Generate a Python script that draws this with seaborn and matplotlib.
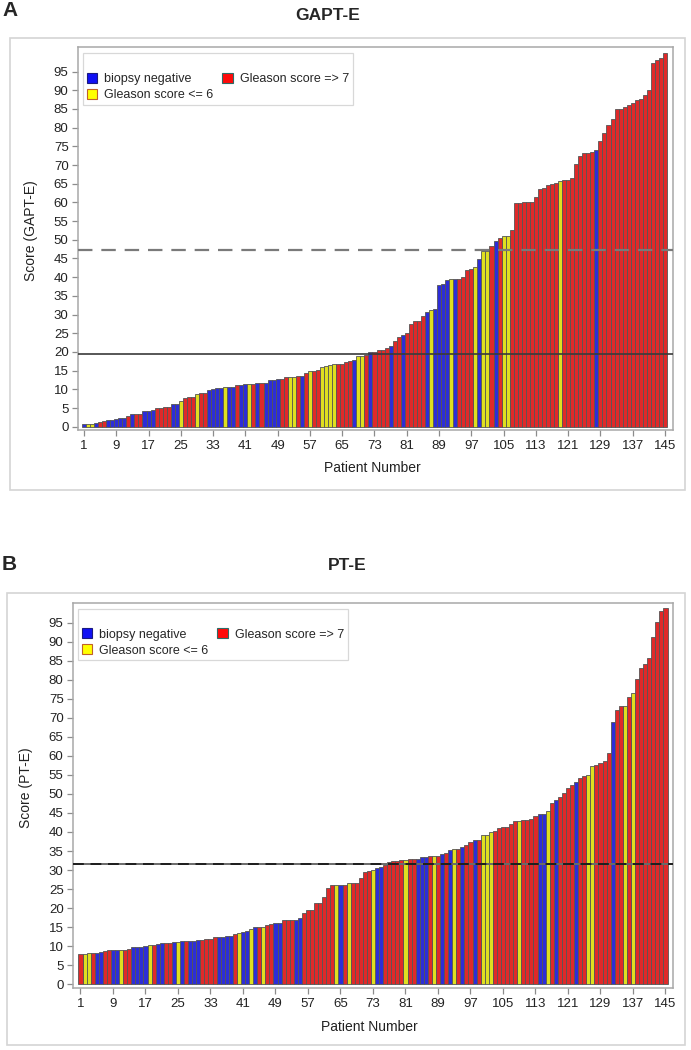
import matplotlib
matplotlib.use("Agg")
import matplotlib.pyplot as plt
import seaborn as sns
import pandas as pd
from matplotlib.patches import Patch, Rectangle

# ---------------- data ----------------
patients = list(range(1, 146))

gapt_scores = [
    0.7, 0.7, 0.8, 1.0, 1.3, 1.5, 1.8, 1.9, 2.0, 2.2,
    2.3, 2.8, 3.3, 3.4, 3.5, 4.2, 4.3, 4.5, 5.0, 5.1,
    5.2, 5.3, 6.0, 6.2, 7.0, 7.8, 7.9, 8.0, 8.8, 8.9,
    9.0, 9.8, 10.0, 10.3, 10.4, 10.5, 10.5, 10.6, 11.1, 11.2,
    11.3, 11.5, 11.5, 11.6, 11.6, 11.7, 12.5, 12.6, 12.7, 12.8,
    13.3, 13.4, 13.4, 13.5, 13.6, 14.3, 14.9, 15.0, 15.1, 15.9,
    16.3, 16.4, 16.7, 16.8, 16.8, 17.2, 17.5, 17.8, 19.0, 19.0,
    19.1, 20.0, 20.0, 20.4, 20.6, 21.1, 21.7, 22.9, 24.0, 24.5,
    25.0, 27.6, 28.2, 28.4, 29.6, 30.7, 31.3, 31.5, 37.8, 38.1,
    39.3, 39.4, 39.5, 39.6, 40.0, 42.0, 42.1, 42.6, 44.9, 46.9,
    47.0, 48.4, 49.8, 50.5, 50.9, 51.0, 52.5, 59.8, 59.9, 60.0,
    60.0, 60.1, 61.5, 63.5, 63.8, 64.6, 64.8, 65.1, 65.8, 65.9,
    66.0, 66.6, 70.4, 72.4, 73.1, 73.3, 73.5, 74.0, 76.4, 78.6,
    80.7, 82.2, 84.9, 85.0, 85.6, 86.0, 86.5, 87.4, 87.8, 88.7,
    90.1, 97.2, 98.1, 98.6, 100.1,
]
gapt_codes = list(
    "BYYBRRBBBB" "BRBRRBBBRR" "RRBBYRRRYR" "RBBBBYBBRB" "BYRBRBBBBR"
    "RYYRBRYRRY" "YYYRRRRBYY" "RBRRRRBRRB" "RRRRRBYBBB" "BYBRRRRYBY"
    "YRBRYYRRRR" "RRRRRRRRYR" "RRRRRRRBRR" "RRRRRRRRRR" "RRRRR"
)

pt_scores = [
    8.0, 8.0, 8.1, 8.1, 8.3, 8.4, 8.8, 8.9, 8.9, 9.0,
    9.0, 9.1, 9.3, 9.7, 9.8, 9.9, 10.0, 10.2, 10.3, 10.7,
    10.8, 10.8, 10.9, 11.0, 11.1, 11.3, 11.4, 11.5, 11.5, 11.6,
    11.7, 11.8, 12.0, 12.4, 12.5, 12.5, 12.6, 12.6, 13.2, 13.4,
    13.8, 13.9, 14.4, 15.0, 15.0, 15.1, 15.7, 15.8, 16.1, 16.2,
    16.9, 16.9, 17.0, 17.0, 17.5, 18.6, 19.5, 19.6, 21.3, 21.4,
    23.0, 25.2, 26.1, 26.1, 26.2, 26.2, 26.5, 26.5, 26.6, 28.0,
    29.4, 29.8, 30.1, 30.6, 30.8, 31.2, 32.0, 32.5, 32.5, 32.6,
    32.7, 32.9, 32.9, 33.0, 33.5, 33.5, 33.6, 33.8, 33.8, 34.1,
    34.6, 35.3, 35.5, 35.5, 36.0, 36.7, 37.3, 37.9, 38.0, 39.1,
    39.2, 40.0, 40.3, 41.1, 41.4, 41.4, 42.1, 42.9, 43.0, 43.2,
    43.2, 43.3, 44.2, 44.7, 44.7, 45.6, 47.5, 48.4, 49.3, 50.3,
    51.6, 52.3, 53.0, 54.1, 54.7, 55.0, 57.2, 57.7, 58.2, 58.7,
    60.8, 68.8, 72.1, 73.2, 73.2, 75.4, 76.6, 80.2, 83.0, 84.1,
    85.6, 91.3, 95.1, 98.1, 98.8,
]
pt_codes = list(
    "RYYRBBRRBB" "YRRBBBBYRB" "BRRBYBRBBB" "RRRRBBBBRY" "BBYBRYRRBB"
    "RRRBBRRRRR" "RRRYBRYRRR" "RRYBBRRRRR" "YRRBBBRYRB" "RBYRBRRBRY"
    "YYRRRRRRYR" "RRRBBYRBRR" "RRBRRYYRRR" "RBRRYRYRRR" "RRRRR"
)

group_names = {"B": "biopsy negative", "Y": "Gleason score <= 6", "R": "Gleason score => 7"}
hue_order = ["biopsy negative", "Gleason score <= 6", "Gleason score => 7"]
gapt_line_solid = 19.4
gapt_line_dashed = 47.2
pt_line = 31.6
y_ticks = list(range(0, 100, 5))
x_ticks = list(range(1, 146, 8))

# ---------------- style ----------------
sns.set_theme(style="white")
plt.rcParams['font.family'] = ['Liberation Sans', 'DejaVu Sans']

fill_colors = {"biopsy negative": "#1010f5",
               "Gleason score <= 6": "#ffff00",
               "Gleason score => 7": "#ff0a0a"}

W, H = 691, 1050
fig = plt.figure(figsize=(W / 100, H / 100), dpi=100)


def px_axes(l, t, r, b):
    return fig.add_axes([l / W, 1 - b / H, (r - l) / W, (b - t) / H])


def draw_panel(ax, scores, codes, edge_map, xlim, ylim, ylabel, ylab_x, xlab_y):
    df = pd.DataFrame({"patient": patients, "score": scores,
                       "group": [group_names[c] for c in codes]})
    sns.barplot(data=df, x="patient", y="score", hue="group", hue_order=hue_order,
                palette=fill_colors, native_scale=True, dodge=False, width=1.0,
                errorbar=None, legend=False, linewidth=0.6, edgecolor="#555555", ax=ax)
    # per-group outline colours
    for p in ax.patches:
        fc = matplotlib.colors.to_hex(p.get_facecolor()[:3])
        for g, col in fill_colors.items():
            if fc == matplotlib.colors.to_hex(col):
                p.set_edgecolor(edge_map[g])
    ax.set_xlim(*xlim)
    ax.set_ylim(*ylim)
    ax.set_yticks(y_ticks)
    ax.set_xticks(x_ticks)
    ax.set_xticklabels([str(t) for t in x_ticks])
    ax.tick_params(axis="both", which="both", direction="out", length=4.5, width=0.9,
                   color="#8c8c8c", labelsize=9.5, pad=2.5, labelcolor="#222222",
                   bottom=True, left=True)
    for s in ax.spines.values():
        s.set_color("#a8a8a8")
        s.set_linewidth(1.1)
    ax.set_ylabel(ylabel, fontsize=10, color="#222222")
    ax.set_xlabel("Patient Number", fontsize=10, color="#222222")
    ax.yaxis.set_label_coords(ylab_x, 0.52)
    ax.xaxis.set_label_coords(0.494, xlab_y)

    handles = [Patch(facecolor=fill_colors["biopsy negative"], edgecolor="#1a1a80", lw=0.8),
               Patch(facecolor=fill_colors["Gleason score <= 6"], edgecolor="#c0602a", lw=0.8),
               Patch(facecolor=fill_colors["Gleason score => 7"], edgecolor="#2e6b66", lw=0.8)]
    leg = ax.legend(handles, hue_order, ncol=2, loc="upper left",
                    bbox_to_anchor=(0.008, 0.984), frameon=True, fancybox=False,
                    fontsize=9, title=" ", title_fontsize=9, handlelength=0.85,
                    handleheight=0.85, handletextpad=0.55, columnspacing=0.7,
                    labelspacing=0.3, borderpad=0.3, borderaxespad=0.0)
    leg.get_frame().set_edgecolor("#cfcfcf")
    leg.get_frame().set_linewidth(0.9)
    return ax


# ---------------- panel A ----------------
axA = px_axes(78.3, 47.3, 673.3, 430.0)
draw_panel(axA, gapt_scores, gapt_codes,
           {"biopsy negative": "#2a3a8a", "Gleason score <= 6": "#c8782a",
            "Gleason score => 7": "#3d6a64"},
           (-0.41, 147.06), (-0.88, 101.5), "Score (GAPT-E)", -0.068, -0.081)
axA.axhline(gapt_line_solid, color="#3a3a3a", lw=1.2, zorder=5)
axA.axhline(gapt_line_dashed, color="#7a7a7a", lw=1.6, ls=(0, (6.5, 4.0)), zorder=5)

# ---------------- panel B ----------------
axB = px_axes(73.3, 602.7, 673.3, 988.3)
draw_panel(axB, pt_scores, pt_codes,
           {"biopsy negative": "#2a3a8a", "Gleason score <= 6": "#b8802a",
            "Gleason score => 7": "#74608a"},
           (-0.77, 146.92), (-1.05, 100.2), "Score (PT-E)", -0.067, -0.081)
axB.axhline(pt_line, color="#6a6a6a", lw=1.4, zorder=5)
axB.axhline(pt_line, color="#111111", lw=1.2, ls=(0, (6.5, 4.0)), zorder=6)

# ---------------- outer boxes & titles ----------------
for (l, t, r, b) in [(10, 38.3, 685, 490), (7, 592.7, 685, 1045)]:
    fig.add_artist(Rectangle((l / W, 1 - b / H), (r - l) / W, (b - t) / H,
                             transform=fig.transFigure, fill=False,
                             edgecolor="#d4d4d4", lw=1.2))

fig.text(2 / W, 1 - 10 / H, "A", ha="left", va="center", fontsize=15, fontweight="bold")
fig.text(295 / W, 1 - 15 / H, "GAPT-E", ha="left", va="center", fontsize=12.5, fontweight="bold")
fig.text(2 / W, 1 - 565 / H, "B", ha="left", va="center", fontsize=15, fontweight="bold")
fig.text(328 / W, 1 - 565 / H, "PT-E", ha="left", va="center", fontsize=12.5, fontweight="bold")

fig.savefig("out.png", dpi=100, facecolor="white")
